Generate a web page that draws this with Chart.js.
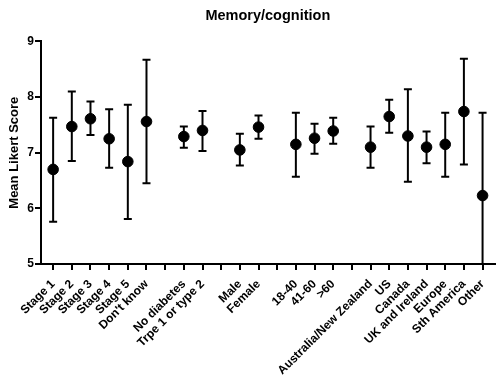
<!DOCTYPE html>
<html>
<head>
<meta charset="utf-8">
<script src="https://cdn.jsdelivr.net/npm/chart.js@4.4.1/dist/chart.umd.min.js"></script>
<style>
  html, body { margin: 0; padding: 0; background: #fff; }
  #wrap { width: 501px; height: 385px; }
</style>
</head>
<body>
<div id="wrap"><canvas id="chart"></canvas></div>
<script>
// slot labels along the x axis, blanks are the gaps between groups
const slots = [
  "Stage 1", "Stage 2", "Stage 3", "Stage 4", "Stage 5", "Don't know", "",
  "No diabetes", "Trpe 1 or type 2", "",
  "Male", "Female", "",
  "18-40", "41-60", ">60", "",
  "Australia/New Zealand", "US", "Canada", "UK and Ireland", "Europe", "Sth America", "Other"
];
const means = [6.70, 7.47, 7.61, 7.25, 6.84, 7.56, null, 7.29, 7.40, null, 7.05, 7.46, null,
  7.15, 7.26, 7.39, null, 7.10, 7.65, 7.30, 7.10, 7.15, 7.74, 6.23];
const upper = [7.63, 8.10, 7.92, 7.78, 7.86, 8.67, null, 7.47, 7.75, null, 7.34, 7.67, null,
  7.72, 7.52, 7.63, null, 7.47, 7.95, 8.14, 7.38, 7.72, 8.69, 7.72];
const lower = [5.76, 6.85, 7.32, 6.73, 5.81, 6.45, null, 7.09, 7.03, null, 6.77, 7.25, null,
  6.57, 6.98, 7.16, null, 6.73, 7.36, 6.48, 6.81, 6.57, 6.79, 4.70];
const yTicks = [5, 6, 7, 8, 9];

const points = [];
means.forEach((m, i) => {
  if (m !== null) points.push({ x: i, y: m, hi: upper[i], lo: lower[i] });
});

const FONT = "Arial, 'Liberation Sans', sans-serif";

// whiskers with caps, drawn under the dots
const errorBars = {
  id: "errorBars",
  beforeDatasetsDraw(chart) {
    const ctx = chart.ctx;
    const xs = chart.scales.x, ys = chart.scales.y;
    const area = chart.chartArea;
    ctx.save();
    ctx.beginPath();
    ctx.rect(area.left, area.top - 2, area.right - area.left, area.bottom - area.top + 2);
    ctx.clip();
    ctx.strokeStyle = "#000";
    ctx.lineWidth = 2;
    points.forEach(p => {
      const x = xs.getPixelForValue(p.x);
      const yh = ys.getPixelForValue(p.hi);
      const yl = ys.getPixelForValue(p.lo);
      ctx.beginPath();
      ctx.moveTo(x, yh); ctx.lineTo(x, yl);
      ctx.moveTo(x - 4, yh); ctx.lineTo(x + 4, yh);
      ctx.moveTo(x - 4, yl); ctx.lineTo(x + 4, yl);
      ctx.stroke();
    });
    ctx.restore();
  }
};

new Chart(document.getElementById("chart"), {
  type: "scatter",
  data: {
    datasets: [{
      data: points,
      backgroundColor: "#000",
      borderColor: "#000",
      pointRadius: 5.3,
      pointHoverRadius: 5.3
    }]
  },
  options: {
    responsive: true,
    maintainAspectRatio: false,
    animation: false,
    layout: { padding: { left: 0, right: 1, top: 0, bottom: 0 } },
    plugins: {
      legend: { display: false },
      tooltip: { enabled: false },
      title: {
        display: true,
        text: "Memory/cognition",
        fullSize: false,
        color: "#000",
        font: { family: FONT, size: 14.5, weight: "bold" },
        padding: { top: 7, bottom: 17 }
      }
    },
    scales: {
      x: {
        type: "linear",
        min: -0.65,
        max: 23.65,
        afterBuildTicks: s => { s.ticks = slots.map((_, i) => ({ value: i })); },
        afterFit: s => { s.height = 121; s.paddingLeft = 0; s.paddingRight = 0; },
        ticks: {
          autoSkip: false,
          maxRotation: 45,
          minRotation: 45,
          color: "#000",
          padding: 7,
          font: { family: FONT, size: 12, weight: "bold" },
          callback: v => slots[v]
        },
        grid: { display: true, drawOnChartArea: false, drawTicks: true, tickLength: 6, color: "#000", lineWidth: 2 },
        border: { color: "#000", width: 2 }
      },
      y: {
        min: 5,
        max: 9,
        afterBuildTicks: s => { s.ticks = yTicks.map(v => ({ value: v })); },
        afterFit: s => { s.width = 41; },
        ticks: {
          color: "#000",
          padding: 1,
          font: { family: FONT, size: 12, weight: "bold" }
        },
        title: {
          display: true,
          text: "Mean Likert Score",
          color: "#000",
          padding: { top: 7, bottom: 0 },
          font: { family: FONT, size: 13, weight: "bold" }
        },
        grid: { display: true, drawOnChartArea: false, drawTicks: true, tickLength: 6, color: "#000", lineWidth: 2 },
        border: { color: "#000", width: 2 }
      }
    }
  },
  plugins: [errorBars]
});
</script>
</body>
</html>
